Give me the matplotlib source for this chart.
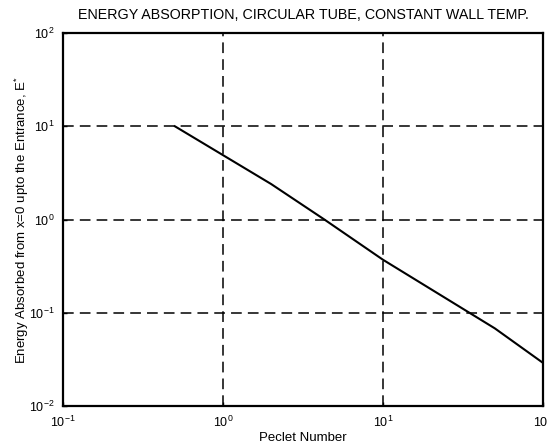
import matplotlib
matplotlib.use("Agg")
import matplotlib.pyplot as plt
from matplotlib.ticker import LogLocator, NullLocator

plt.rcParams['font.family'] = ['Liberation Sans', 'DejaVu Sans']
plt.rcParams['mathtext.fontset'] = 'custom'
plt.rcParams['mathtext.rm'] = 'Liberation Sans'
plt.rcParams['mathtext.it'] = 'Liberation Sans:italic'

peclet = [0.5, 1.0, 2.0, 4.3, 10.0, 50.0, 100.0]
energy = [10.0, 4.9, 2.4, 1.0, 0.37, 0.068, 0.029]

title = "ENERGY ABSORPTION, CIRCULAR TUBE, CONSTANT WALL TEMP."
xlabel = "Peclet Number"
ylabel = "Energy Absorbed from x=0 upto the Entrance, E$^{*}$"

fig = plt.figure(figsize=(5.47, 4.47), dpi=100)
ax = fig.add_axes([63/547, 41/447, 480/547, 373/447])
ax.plot(peclet, energy, color='black', linewidth=1.5)
ax.set_xscale('log')
ax.set_yscale('log')
ax.set_xlim(0.1, 100)
ax.set_ylim(0.01, 100)
ax.xaxis.set_major_locator(LogLocator(base=10, numticks=10))
ax.yaxis.set_major_locator(LogLocator(base=10, numticks=10))
ax.xaxis.set_minor_locator(NullLocator())
ax.yaxis.set_minor_locator(NullLocator())
ax.grid(True, which='major', color='black', linestyle=(0, (7, 4)), linewidth=1.1)
ax.tick_params(direction='in', length=3, width=1, labelsize=9, colors='black')
ax.tick_params(axis='y', pad=6)
ax.tick_params(axis='x', pad=6)
for s in ax.spines.values():
    s.set_linewidth(1.6)
ax.set_title(title, fontsize=10.3, pad=10)
ax.set_xlabel(xlabel, fontsize=9.5, labelpad=2)
fig.text(22/547, 1 - 220/447, ylabel, rotation=90, fontsize=9.5,
         ha='center', va='center')
fig.savefig("out.png", dpi=100)
